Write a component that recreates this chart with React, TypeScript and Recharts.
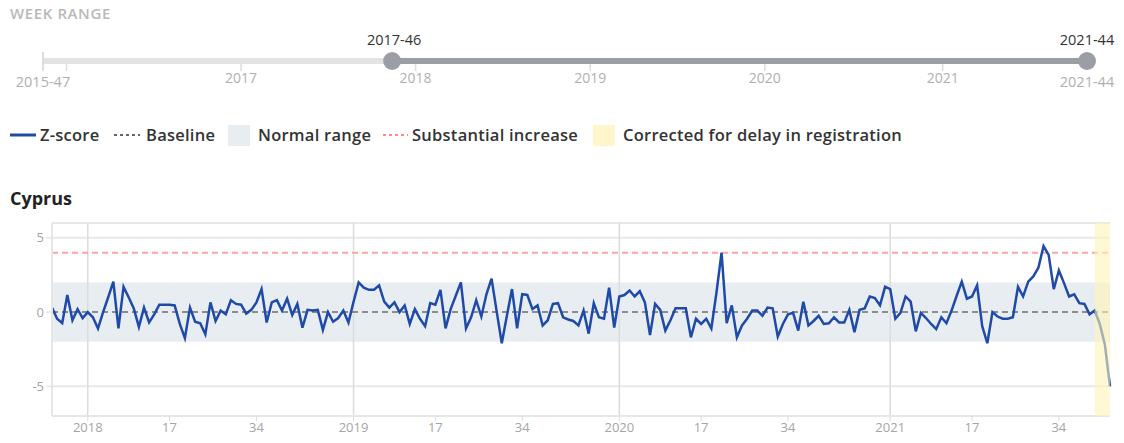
import React from 'react';
import { LineChart, Line, XAxis, YAxis, CartesianGrid, ReferenceArea, ReferenceLine } from 'recharts';

// ---- data ----
const YEARS = [2017, 2018, 2019, 2020, 2021];
const WEEKS_IN_YEAR = [52, 52, 52, 53, 52];
const FIRST_WEEK = 46; // of 2017
const LAST_WEEK = 44; // of 2021

const z2017 = [0.3, -0.45, -0.75, 1.15, -0.55, 0.2, -0.4];
const z2018 = [
  0, -0.35, -1.1, 0.0, 1.0, 2.05, -1.1, 1.7, 1.0, 0.25,
  -1.0, 0.3, -0.7, -0.15, 0.5, 0.5, 0.5, 0.45, -0.8, -1.75,
  0.3, -0.65, -0.75, -1.5, 0.65, -0.6, 0.1, -0.15, 0.8, 0.55,
  0.5, -0.1, 0.15, 0.65, 1.55, -0.7, 0.65, 0.8, 0.1, 0.9,
  -0.2, 0.55, -1.05, 0.15, 0.1, 0.15, -1.2, 0, -0.65, -0.4,
  0.1, -0.7,
];
const z2019 = [
  0.7, 2.0, 1.65, 1.5, 1.5, 1.8, 0.7, 0.3, 0.65, 0,
  0.45, -0.8, 0.2, -0.45, -0.95, 0.6, 0.5, 1.5, -1.1, 0.2,
  1.1, 2.0, -1.1, -0.35, 0.8, -0.3, 1.2, 2.25, 0.05, -2.1,
  -0.25, 1.55, -1.1, 1.2, 1.15, 0.2, 0.45, -0.9, -0.55, 0.55,
  0.6, -0.35, -0.5, -0.6, -0.9, 0.1, -1.45, 0.6, -0.35, -0.45,
  1.65, -1.05,
];
const z2020 = [
  1.05, 1.15, 1.45, 1.05, 1.4, 0.65, -1.55, 0.55, 0.15, -1.25,
  -0.55, 0.25, 0.25, 0.25, -1.7, -0.45, -0.8, -0.45, -1.1, 1.3,
  4.0, -0.75, 0.45, -1.7, -0.9, -0.45, 0.1, 0.1, -0.25, 0.3,
  0.25, -1.65, -0.8, -0.15, -0.05, -1.25, 0.7, -0.9, -0.6, -0.25,
  -0.8, -0.75, -0.35, -0.7, -0.7, 0.15, -1.35, 0.15, 0.25, 1.05,
  0.95, 0.45, 1.7,
];
const z2021 = [
  1.55, -0.45, -0.05, 1.05, 0.7, -1.3, -0.05, -0.4, -0.8, -1.15,
  -0.35, -0.75, 0.1, 1.1, 2.05, 0.9, 1.05, 1.8, -0.95, -2.1,
  0, -0.3, -0.45, -0.45, -0.35, 1.7, 1.05, 2.05, 2.4, 3.0,
  4.45, 3.85, 1.55, 2.8, 1.95, 1.05, 1.2, 0.6, 0.55, -0.15,
  0.1, -0.8, -2.2, -5.0,
];

const TICK_WEEKS = [1, 17, 34];
const Y_TICKS = [-5, 0, 5];
const Y_DOMAIN: [number, number] = [-7, 6];
const NORMAL_LOW = -2;
const NORMAL_HIGH = 2;
const SUBSTANTIAL = 4;
const BASELINE = 0;
const DELAY_START = '2021-41';
const DELAY_END = '2021-44';

// slider (week range control)
const SLIDER_START = { year: 2015, week: 47 };
const SLIDER_YEARS = [2016, 2017, 2018, 2019, 2020, 2021];
const SLIDER_YEAR_LABELS = ['', '2017', '2018', '2019', '2020', '2021'];
const SLIDER_WEEKS_IN_YEAR: Record<number, number> = { 2015: 53, 2016: 52, 2017: 52, 2018: 52, 2019: 52, 2020: 53, 2021: 52 };
const SELECTED_FROM = '2017-46';
const SELECTED_TO = '2021-44';
const SLIDER_FROM_LABEL = '2015-47';
const SLIDER_TO_LABEL = '2021-44';

const LEGEND = ['Z-score', 'Baseline', 'Normal range', 'Substantial increase', 'Corrected for delay in registration'];
const TITLE = 'Cyprus';

// ---- build table ----
const pad = (w: number) => (w < 10 ? '0' + w : '' + w);
const zAll = [...z2017, ...z2018, ...z2019, ...z2020, ...z2021];
const weeks: string[] = [];
YEARS.forEach((y, yi) => {
  const from = yi === 0 ? FIRST_WEEK : 1;
  const to = yi === YEARS.length - 1 ? LAST_WEEK : WEEKS_IN_YEAR[yi];
  for (let w = from; w <= to; w++) weeks.push(`${y}-${pad(w)}`);
});
const data = weeks.map((w, i) => ({ week: w, z: zAll[i] }));
const xTicks = weeks.filter((w) => TICK_WEEKS.includes(parseInt(w.slice(5), 10)));
const yearStarts = weeks.filter((w) => w.endsWith('-01'));
const fmtTick = (w: string) => {
  const wk = parseInt(w.slice(5), 10);
  return wk === 1 ? w.slice(0, 4) : String(wk);
};

// slider scale
const sliderIndex = (year: number, week: number) => {
  let idx = 0;
  for (let y = SLIDER_START.year; y < year; y++) {
    idx += y === SLIDER_START.year ? SLIDER_WEEKS_IN_YEAR[y] - SLIDER_START.week + 1 : SLIDER_WEEKS_IN_YEAR[y];
  }
  return idx + (year === SLIDER_START.year ? week - SLIDER_START.week : week - 1);
};
const parseW = (s: string) => [parseInt(s.slice(0, 4), 10), parseInt(s.slice(5), 10)];
const SL_X0 = 43;
const SL_X1 = 1087;
const sliderMax = sliderIndex(...(parseW(SLIDER_TO_LABEL) as [number, number]));
const sx = (idx: number) => SL_X0 + ((SL_X1 - SL_X0) * idx) / sliderMax;

const FONT = '"Open Sans", "Noto Sans", sans-serif';
const BLUE = '#1f4aa8';

function Slider() {
  const fromX = sx(sliderIndex(...(parseW(SELECTED_FROM) as [number, number])));
  const toX = sx(sliderIndex(...(parseW(SELECTED_TO) as [number, number])));
  const trackY = 61;
  return (
    <svg width={1124} height={100} style={{ position: 'absolute', left: 0, top: 0, fontFamily: FONT }}>
      <text x={10} y={19} fontSize={15} fontWeight={600} fill="#b9b9b9" letterSpacing={0.6}>WEEK RANGE</text>
      <line x1={SL_X0} x2={SL_X1} y1={trackY} y2={trackY} stroke="#e3e3e3" strokeWidth={6} />
      <line x1={SL_X0} x2={SL_X0} y1={52} y2={71} stroke="#dddddd" strokeWidth={2} />
      {SLIDER_YEARS.map((y, i) => {
        const x = sx(sliderIndex(y, 1));
        return (
          <g key={y}>
            <line x1={x} x2={x} y1={trackY + 3} y2={trackY + 10} stroke="#dddddd" strokeWidth={1.5} />
            {SLIDER_YEAR_LABELS[i] && (
              <text x={x} y={83} textAnchor="middle" fontSize={14} fontWeight={500} fill="#b0b0b0">{SLIDER_YEAR_LABELS[i]}</text>
            )}
          </g>
        );
      })}
      <line x1={fromX} x2={toX} y1={trackY} y2={trackY} stroke="#9b9ea4" strokeWidth={6} />
      <circle cx={fromX} cy={trackY} r={9} fill="#9b9ea4" />
      <circle cx={toX} cy={trackY} r={9} fill="#9b9ea4" />
      <text x={fromX + 2} y={45} textAnchor="middle" fontSize={14.5} fill="#333">{SELECTED_FROM}</text>
      <text x={toX} y={45} textAnchor="middle" fontSize={14.5} fill="#333">{SELECTED_TO}</text>
      <text x={SL_X0} y={87} textAnchor="middle" fontSize={14.5} fontWeight={500} fill="#b0b0b0">{SLIDER_FROM_LABEL}</text>
      <text x={SL_X1} y={87} textAnchor="middle" fontSize={14.5} fontWeight={500} fill="#b0b0b0">{SLIDER_TO_LABEL}</text>
    </svg>
  );
}

function Legend() {
  const textStyle: React.CSSProperties = { position: 'absolute', top: 124, fontSize: 16.5, fontWeight: 600, color: '#333', whiteSpace: 'nowrap', lineHeight: '22px', letterSpacing: 0.25 };
  return (
    <div style={{ position: 'absolute', left: 0, top: 0, width: 1124, height: 160, fontFamily: FONT }}>
      <svg width={1124} height={160} style={{ position: 'absolute', left: 0, top: 0 }}>
        <line x1={10} x2={36} y1={135} y2={135} stroke={BLUE} strokeWidth={3} />
        <line x1={114} x2={140} y1={135} y2={135} stroke="#666" strokeWidth={2} strokeDasharray="3 3" />
        <rect x={228} y={125} width={22} height={21} fill="#e8edf2" />
        <line x1={383} x2={408} y1={135} y2={135} stroke="#ff8a8a" strokeWidth={2} strokeDasharray="3 3" />
        <rect x={593} y={125} width={22} height={21} fill="#fff6cc" />
      </svg>
      <span style={{ ...textStyle, left: 40 }}>{LEGEND[0]}</span>
      <span style={{ ...textStyle, left: 146 }}>{LEGEND[1]}</span>
      <span style={{ ...textStyle, left: 258 }}>{LEGEND[2]}</span>
      <span style={{ ...textStyle, left: 412 }}>{LEGEND[3]}</span>
      <span style={{ ...textStyle, left: 623 }}>{LEGEND[4]}</span>
    </div>
  );
}

export default function App() {
  return (
    <div style={{ position: 'absolute', left: 0, top: 0, width: 1124, height: 443, background: '#fff', fontFamily: FONT, overflow: 'hidden' }}>
      <Slider />
      <Legend />
      <div style={{ position: 'absolute', left: 10, top: 186, fontSize: 18, fontWeight: 700, color: '#222', lineHeight: '24px' }}>{TITLE}</div>
      <div style={{ position: 'absolute', left: 0, top: 215 }}>
        <LineChart width={1124} height={228} data={data} margin={{ top: 8, right: 14, bottom: 0, left: 0 }}>
          <ReferenceArea y1={NORMAL_LOW} y2={NORMAL_HIGH} fill="#e8edf2" fillOpacity={1} stroke="none" ifOverflow="visible" />
          <CartesianGrid vertical={false} stroke="#e8e8e8" strokeWidth={2} />
          {yearStarts.map((w) => (
            <ReferenceLine key={w} x={w} stroke="#dcdcdc" strokeWidth={1.5} />
          ))}
          <XAxis
            dataKey="week"
            ticks={xTicks}
            interval={0}
            tickFormatter={fmtTick}
            height={27}
            axisLine={{ stroke: '#e6e6e6', strokeWidth: 2 }}
            tickLine={{ stroke: '#dcdcdc' }}
            tickSize={5}
            tick={{ fill: '#a5a5a5', fontSize: 13, fontWeight: 500 }}
          />
          <YAxis
            domain={Y_DOMAIN}
            ticks={Y_TICKS}
            width={52}
            allowDataOverflow
            axisLine={{ stroke: '#e6e6e6', strokeWidth: 2 }}
            tickLine={{ stroke: '#dcdcdc' }}
            tickSize={6}
            tick={{ fill: '#a5a5a5', fontSize: 13, fontWeight: 500 }}
          />
          <ReferenceLine y={SUBSTANTIAL} stroke="#ffa3a3" strokeWidth={2} strokeDasharray="6 4" />
          <ReferenceLine y={BASELINE} stroke="#8c8c8c" strokeWidth={2} strokeDasharray="6 4" />
          <Line type="linear" dataKey="z" stroke={BLUE} strokeWidth={2.5} dot={false} isAnimationActive={false} />
          <ReferenceArea x1={DELAY_START} x2={DELAY_END} fill="#fff3b8" fillOpacity={0.6} stroke="none" zIndex={1000} />
        </LineChart>
      </div>
    </div>
  );
}
